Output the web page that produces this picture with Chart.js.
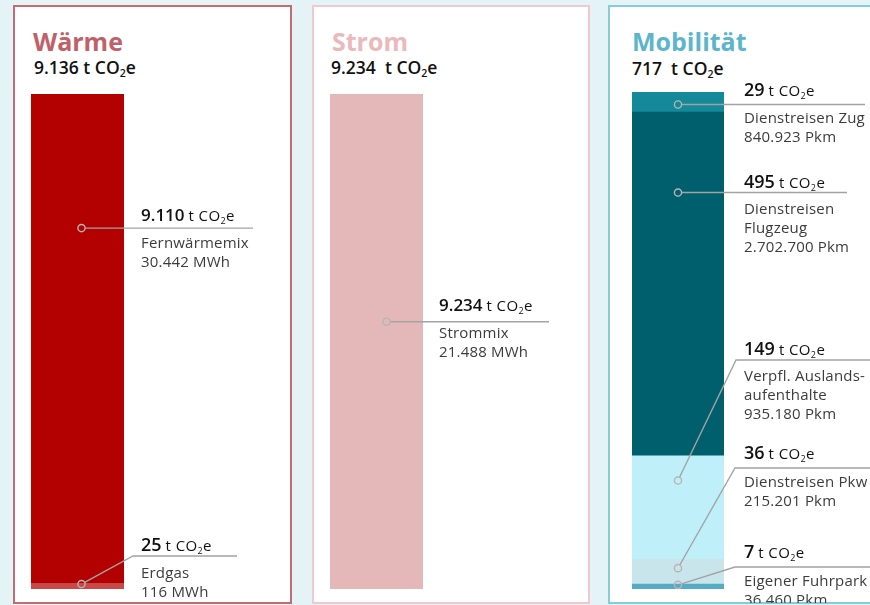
<!DOCTYPE html>
<html lang="de">
<head>
<meta charset="utf-8">
<script src="https://cdn.jsdelivr.net/npm/chart.js@4.4.1/dist/chart.umd.min.js"></script>
<style>
  html,body{margin:0;padding:0;}
  body{width:870px;height:605px;overflow:hidden;background:#e4f3f6;position:relative;font-family:"Open Sans",sans-serif;}
  .panel{position:absolute;top:5px;height:599px;box-sizing:border-box;border:2px solid;background:#fff;}
  .title{position:absolute;font-weight:700;font-size:25px;line-height:25px;white-space:nowrap;}
  .sub{position:absolute;font-weight:600;font-size:17.5px;line-height:17px;color:#111;white-space:nowrap;}
  .sub sub{font-size:10.5px;vertical-align:-3px;line-height:0;}
  canvas{position:absolute;top:7px;}
</style>
</head>
<body>
<div class="panel" style="left:13px;width:279px;border-color:#c56c72;"></div>
<div class="panel" style="left:312px;width:278px;border-color:#efc9cb;"></div>
<div class="panel" style="left:608px;width:290px;border-color:#86cddc;"></div>

<div class="title" id="t0" style="left:33px;top:29px;color:#c0616a;"></div>
<div class="sub" id="s0" style="left:34px;top:59px;"></div>
<div class="title" id="t1" style="left:332px;top:29px;color:#e9b9bc;"></div>
<div class="sub" id="s1" style="left:331px;top:59px;"></div>
<div class="title" id="t2" style="left:632px;top:29px;color:#5cb5cb;"></div>
<div class="sub" id="s2" style="left:632px;top:60px;"></div>

<canvas id="c0" width="275" height="596" style="left:15px;"></canvas>
<canvas id="c1" width="274" height="596" style="left:314px;"></canvas>
<canvas id="c2" width="260" height="596" style="left:610px;"></canvas>

<script>
// ---------- data ----------
const panelTitles = ['Wärme', 'Strom', 'Mobilität'];
const panelTotals = ['9.136', '9.234', '717'];

const waermeLabels = [['Erdgas'], ['Fernwärmemix']];
const waermeValues = [25, 9110];
const waermeUsage  = ['116 MWh', '30.442 MWh'];

const stromLabels = [['Strommix']];
const stromValues = [9234];
const stromUsage  = ['21.488 MWh'];

const mobilLabels = [['Eigener Fuhrpark'], ['Dienstreisen Pkw'], ['Verpfl. Auslands-', 'aufenthalte'], ['Dienstreisen', 'Flugzeug'], ['Dienstreisen Zug']];
const mobilValues = [7, 36, 149, 495, 29];
const mobilUsage  = ['36.460 Pkm', '215.201 Pkm', '935.180 Pkm', '2.702.700 Pkm', '840.923 Pkm'];

// ---------- styles ----------
const waermeColors = ['#c94848', '#b30000'];
const stromColors  = ['#e4b8b8'];
const mobilColors  = ['#56abc4', '#c9e5ec', '#bff0fa', '#005f6d', '#13899a'];
const subGaps = [' ', '&nbsp; ', '&nbsp; '];

// callout layout (per dataset): marker position inside segment, optional elbow line height, line length
const waermeCallouts = [
  {mark: 0.1, dx: 4, lineAt: 462, elbow: 9, end: 113, num: 18, unit: 15, above: 5, below: 22},
  {mark: 0.28, dx: 4, end: 129, num: 17, unit: 15, above: 7, below: 20}
];
const stromCallouts = [
  {mark: 0.46, dx: 10, end: 126, num: 17, unit: 15, above: 11, below: 16}
];
const mobilCallouts = [
  {mark: 0.15, dx: 0, lineAt: 475, elbow: 11, end: 160, num: 18, unit: 15, above: 9, below: 19},
  {mark: 0.36, dx: 0, lineAt: 376, elbow: 11, end: 160, num: 18, unit: 15, above: 9, below: 19},
  {mark: 0.24, dx: 0, lineAt: 268, elbow: 12, end: 160, num: 18, unit: 15, above: 5, below: 21},
  {mark: 0.234, dx: 0, end: 123, num: 18, unit: 15, above: 5, below: 21},
  {mark: 0.62, dx: 0, end: 141, num: 18, unit: 15, above: 8, below: 19}
];

function fmt(n) {
  return String(n).replace(/\B(?=(\d{3})+(?!\d))/g, '.');
}

panelTitles.forEach((t, i) => {
  document.getElementById('t' + i).textContent = t;
  document.getElementById('s' + i).innerHTML = panelTotals[i] + subGaps[i] + 't CO<sub>2</sub>e';
});

const calloutPlugin = {
  id: 'callouts',
  afterDatasetsDraw(chart, args, opts) {
    const ctx = chart.ctx, area = chart.chartArea;
    const textX = area.right + opts.textDx;
    ctx.save();
    opts.items.forEach((it, i) => {
      const bar = chart.getDatasetMeta(i).data[0];
      const top = Math.min(bar.y, bar.base), bot = Math.max(bar.y, bar.base);
      const mx = bar.x + it.dx, my = top + (bot - top) * it.mark;
      const ly = it.lineAt != null ? area.top + it.lineAt : my;
      // leader line
      ctx.strokeStyle = '#a3a3a3';
      ctx.lineWidth = 1.4;
      ctx.beginPath();
      if (it.lineAt != null) {
        const ex = area.right + it.elbow;
        const ang = Math.atan2(ly - my, ex - mx);
        ctx.moveTo(mx + 3.6 * Math.cos(ang), my + 3.6 * Math.sin(ang));
        ctx.lineTo(ex, ly);
      } else {
        ctx.moveTo(mx + 3.6, my);
      }
      ctx.lineTo(area.right + it.end, ly);
      ctx.stroke();
      // marker
      ctx.beginPath();
      ctx.arc(mx, my, 3.6, 0, Math.PI * 2);
      ctx.strokeStyle = '#b5b5b5';
      ctx.lineWidth = 1.4;
      ctx.stroke();
      // value text
      const value = chart.data.datasets[i].data[0];
      let x = textX;
      const by = ly - it.above;
      ctx.fillStyle = '#111';
      ctx.textBaseline = 'alphabetic';
      ctx.textAlign = 'left';
      ctx.letterSpacing = '0px';
      ctx.font = '600 ' + it.num + 'px "Open Sans"';
      const numTxt = fmt(value);
      ctx.fillText(numTxt, x, by);
      x += ctx.measureText(numTxt).width + 4;
      ctx.letterSpacing = '0.4px';
      ctx.font = '400 ' + it.unit + 'px "Open Sans"';
      ctx.fillText('t CO', x, by);
      x += ctx.measureText('t CO').width;
      ctx.font = '400 ' + Math.round(it.unit * 0.62) + 'px "Open Sans"';
      ctx.fillText('2', x, by + 3);
      x += ctx.measureText('2').width;
      ctx.font = '400 ' + it.unit + 'px "Open Sans"';
      ctx.fillText('e', x, by);
      // description
      ctx.fillStyle = '#3c3c3c';
      ctx.letterSpacing = '0.2px';
      ctx.font = '400 15px "Open Sans"';
      const lines = opts.labels[i].concat([opts.usage[i]]);
      lines.forEach((l, k) => ctx.fillText(l, textX, ly + it.below + k * 19));
    });
    ctx.restore();
  }
};

function makeChart(id, values, colors, labels, usage, callouts, pad, minLen) {
  const total = values.reduce((a, b) => a + b, 0);
  return new Chart(document.getElementById(id), {
    type: 'bar',
    data: {
      labels: [''],
      datasets: values.map((v, i) => ({
        data: [v],
        backgroundColor: colors[i],
        borderWidth: 0,
        barPercentage: 1,
        categoryPercentage: 1,
        minBarLength: minLen ? minLen[i] : 0
      }))
    },
    options: {
      responsive: false,
      animation: false,
      events: [],
      layout: {padding: pad},
      scales: {
        x: {display: false, stacked: true},
        y: {display: false, stacked: true, min: 0, max: total}
      },
      plugins: {
        legend: {display: false},
        tooltip: {enabled: false},
        callouts: {items: callouts, labels: labels, usage: usage, textDx: pad.textDx}
      }
    },
    plugins: [calloutPlugin]
  });
}

makeChart('c0', waermeValues, waermeColors, waermeLabels, waermeUsage, waermeCallouts,
  {left: 16, right: 166, top: 87, bottom: 14, textDx: 17}, [5.5, 0]);
makeChart('c1', stromValues, stromColors, stromLabels, stromUsage, stromCallouts,
  {left: 16, right: 165, top: 87, bottom: 14, textDx: 16});
makeChart('c2', mobilValues, mobilColors, mobilLabels, mobilUsage, mobilCallouts,
  {left: 22, right: 146, top: 85, bottom: 14, textDx: 20});
</script>
</body>
</html>
